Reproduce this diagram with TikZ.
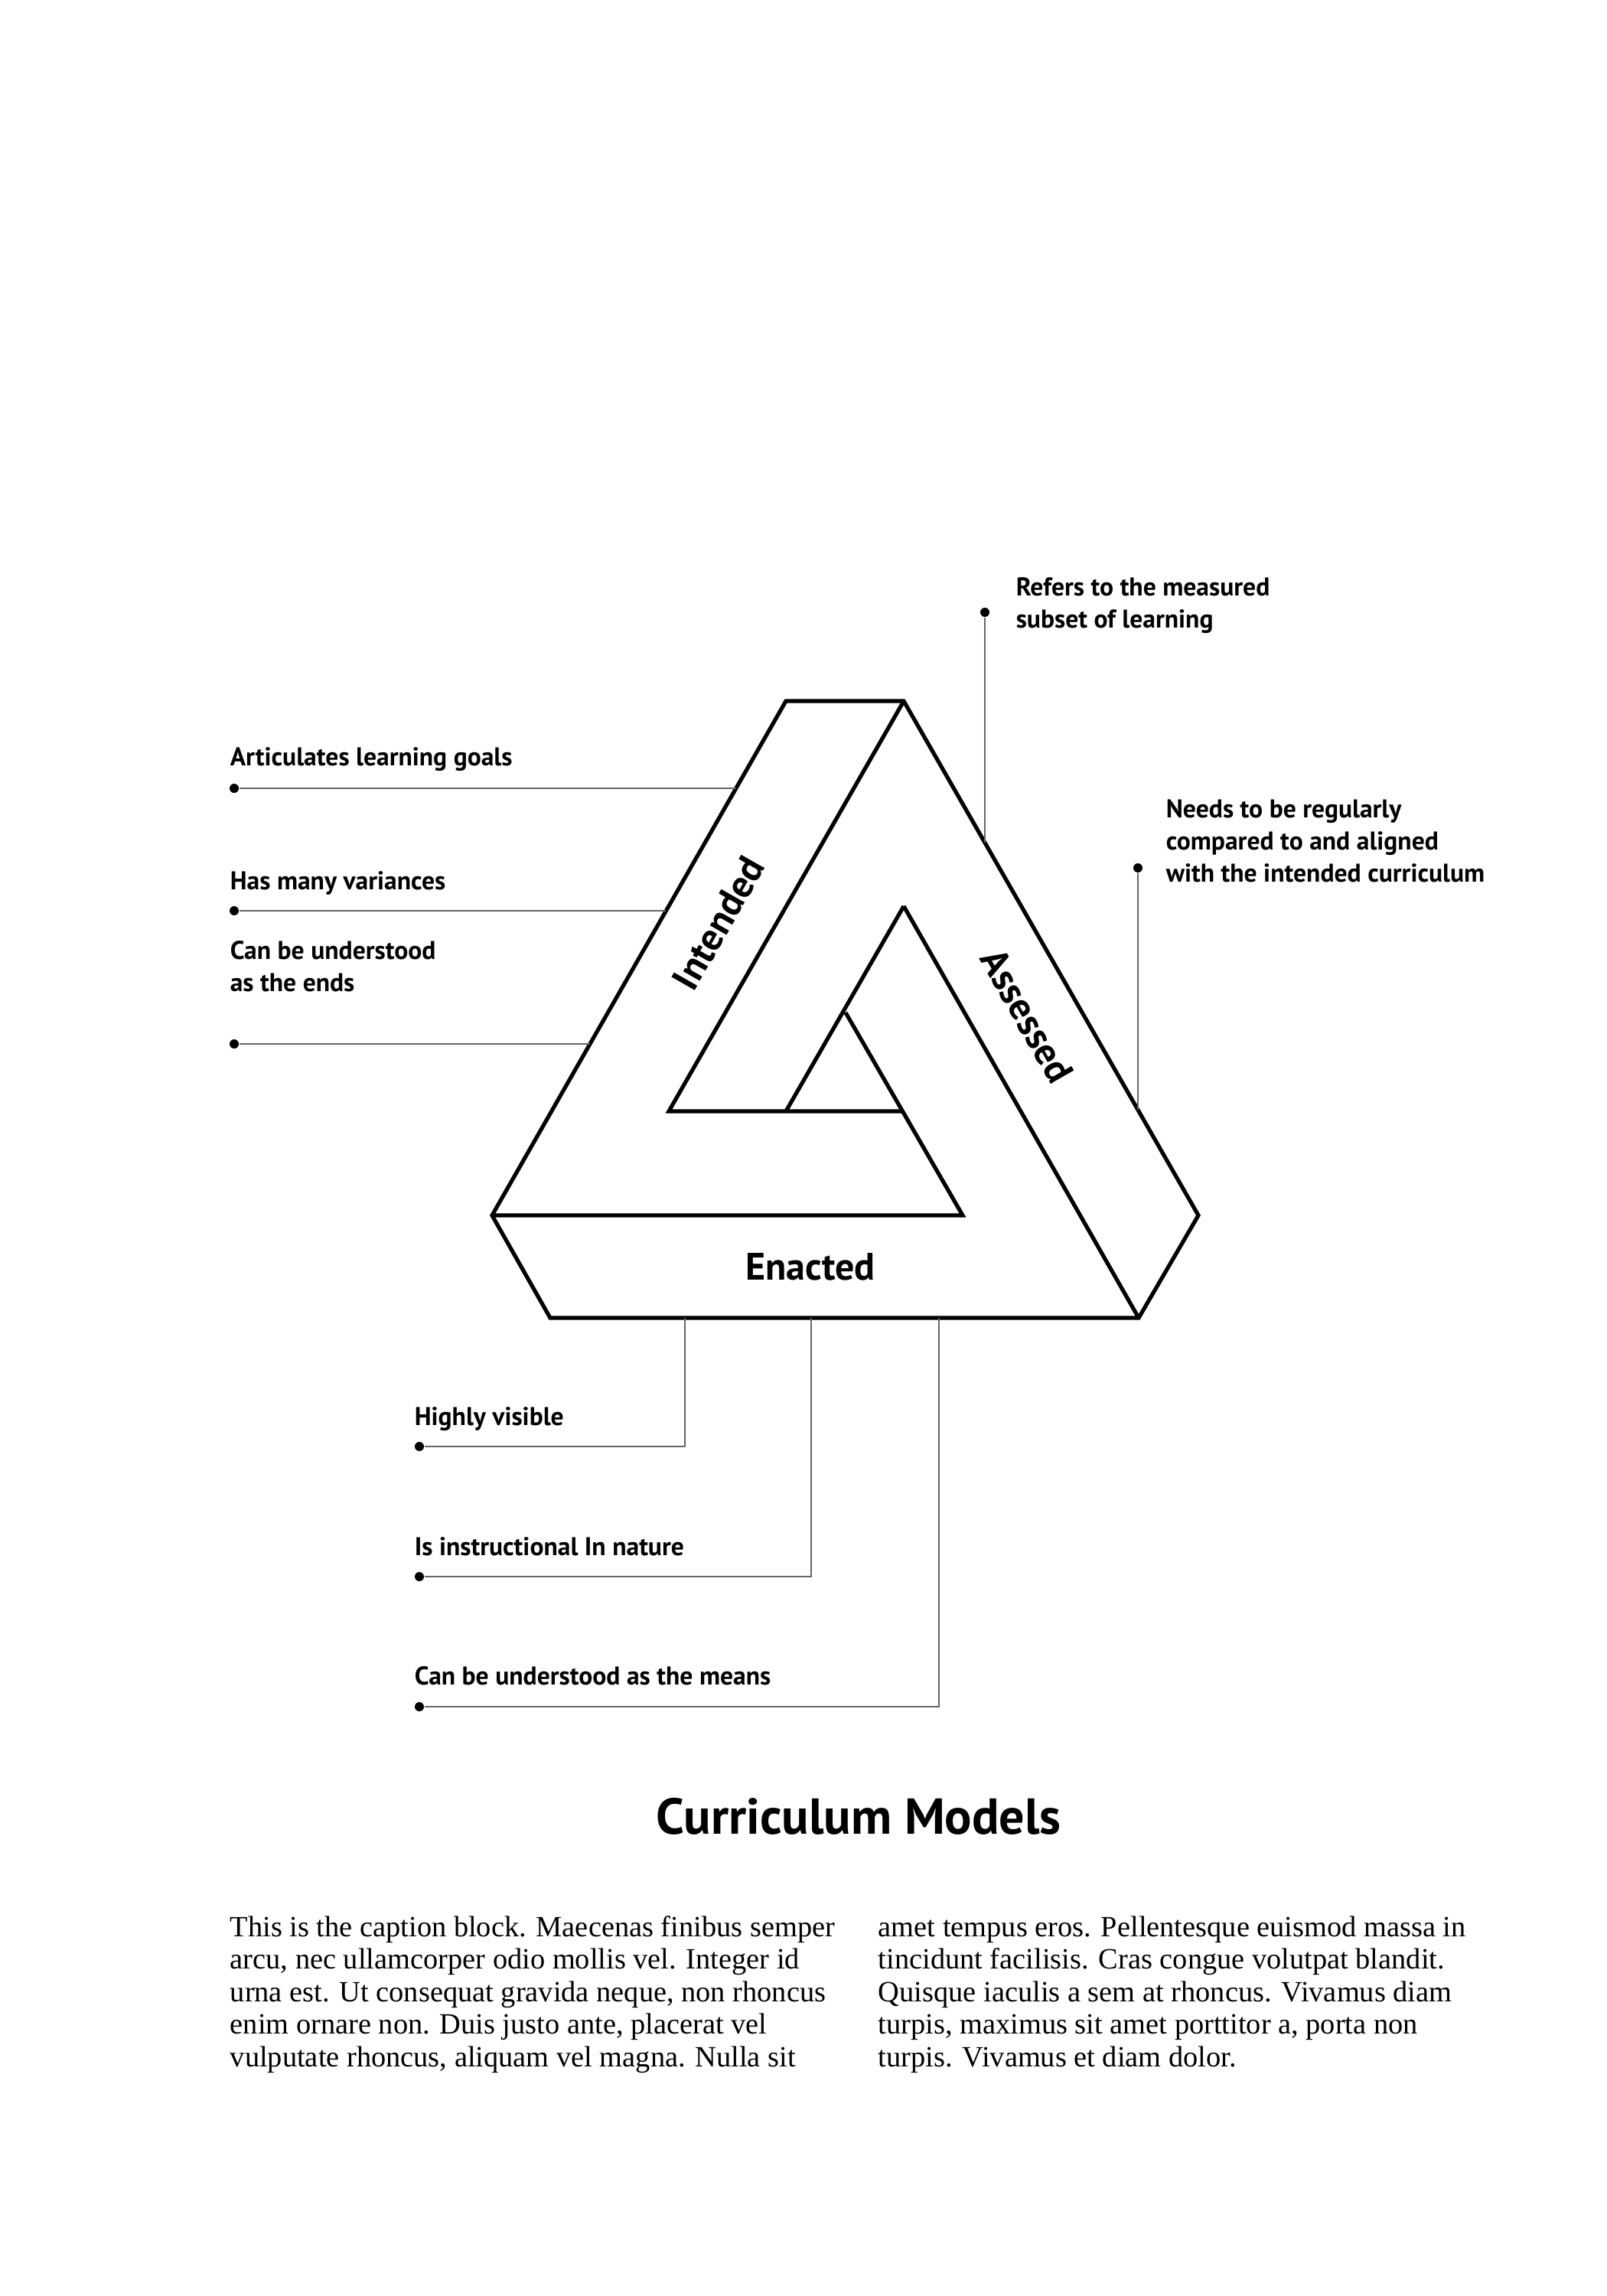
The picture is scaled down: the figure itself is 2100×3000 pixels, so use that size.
\documentclass[tikz,border=0pt]{standalone}
\usepackage{fontspec}
\setmainfont{Liberation Serif}
\newfontfamily\lab{PT Sans}
\begin{document}
\begin{tikzpicture}[x=0.25pt,y=-0.25pt,
  edge/.style={line width=1.3pt,line join=miter},
  lead/.style={draw=black!60,line width=0.35pt},
  dot/.style={circle,fill=black,inner sep=0pt,minimum size=3pt},
  lbl/.style={font=\lab\bfseries\fontsize{8.4}{10.4}\selectfont,anchor=base west,align=left,inner sep=0pt},
  side/.style={font=\lab\bfseries\fontsize{12.5}{14}\selectfont,inner sep=0pt},
  captext/.style={font=\fontsize{9.6}{10.6}\selectfont,anchor=base west,align=left,inner sep=0pt}]
\useasboundingbox (0,0) rectangle (2100,3000);
% triangle coordinates
\coordinate (A) at (1027,916); \coordinate (B) at (1181,916);
\coordinate (C) at (1566,1588); \coordinate (D) at (1488,1722);
\coordinate (E) at (719,1722); \coordinate (F) at (643,1588);
\coordinate (G) at (1181,1184); \coordinate (H) at (874,1452);
\coordinate (I) at (1027,1452); \coordinate (J) at (1179,1452);
\coordinate (K) at (1105,1323); \coordinate (L) at (1258,1588);
\draw[edge] (A)--(B)--(C)--(D)--(E)--(F)--cycle;
\draw[edge] (B)--(H)--(J);
\draw[edge] (G)--(I);
\draw[edge] (G)--(D);
\draw[edge] (F)--(L)--(K);
\node[side,rotate=60.3] (tI) at (939,1206) {Intended};
\node[side,rotate=-60.3] (tA) at (1342,1327) {Assessed};
\node[side] (tE) at (1059,1655) {Enacted};
% left labels
\node[lbl] (l1) at (300,1000) {Articulates learning goals};
\node[dot] (d1) at (306,1030) {}; \coordinate (e1) at (962,1030);
\draw[lead] (d1)--(e1);
\node[lbl] (l2) at (300,1162) {Has many variances};
\node[dot] (d2) at (306,1190) {}; \coordinate (e2) at (870,1190);
\draw[lead] (d2)--(e2);
\node[lbl] (l3) at (300,1295) {Can be understood\\as the ends};
\node[dot] (d3) at (306,1364) {}; \coordinate (e3) at (771,1364);
\draw[lead] (d3)--(e3);
% right labels
\node[lbl] (r1) at (1327,820) {Refers to the measured\\subset of learning};
\node[dot] (rd1) at (1287,800) {}; \coordinate (re1) at (1287,1101);
\draw[lead] (rd1)--(re1);
\node[lbl] (r2) at (1523,1152) {Needs to be regularly\\compared to and aligned\\with the intended curriculum};
\node[dot] (rd2) at (1487,1134) {}; \coordinate (re2) at (1487,1450);
\draw[lead] (rd2)--(re2);
% bottom labels
\node[lbl] (b1) at (541,1862) {Highly visible};
\node[dot] (bd1) at (548,1890) {}; \coordinate (be1) at (895,1722);
\draw[lead] (bd1)-|(be1);
\node[lbl] (b2) at (541,2032) {Is instructional In nature};
\node[dot] (bd2) at (548,2060) {}; \coordinate (be2) at (1060,1722);
\draw[lead] (bd2)-|(be2);
\node[lbl] (b3) at (541,2201) {Can be understood as the means};
\node[dot] (bd3) at (548,2230) {}; \coordinate (be3) at (1227,1722);
\draw[lead] (bd3)-|(be3);
% title
\node[font=\lab\bfseries\fontsize{16.5}{18}\selectfont,inner sep=0pt] (title) at (1122,2373) {Curriculum Models};
% caption
\node[captext] (c1) at (300,2700) {This is the caption block. Maecenas finibus semper\\arcu, nec ullamcorper odio mollis vel. Integer id\\urna est. Ut consequat gravida neque, non rhoncus\\enim ornare non. Duis justo ante, placerat vel\\vulputate rhoncus, aliquam vel magna. Nulla sit};
\node[captext] (c2) at (1147,2700) {amet tempus eros. Pellentesque euismod massa in\\tincidunt facilisis. Cras congue volutpat blandit.\\Quisque iaculis a sem at rhoncus. Vivamus diam\\turpis, maximus sit amet porttitor a, porta non\\turpis. Vivamus et diam dolor.};
\end{tikzpicture}
\end{document}
